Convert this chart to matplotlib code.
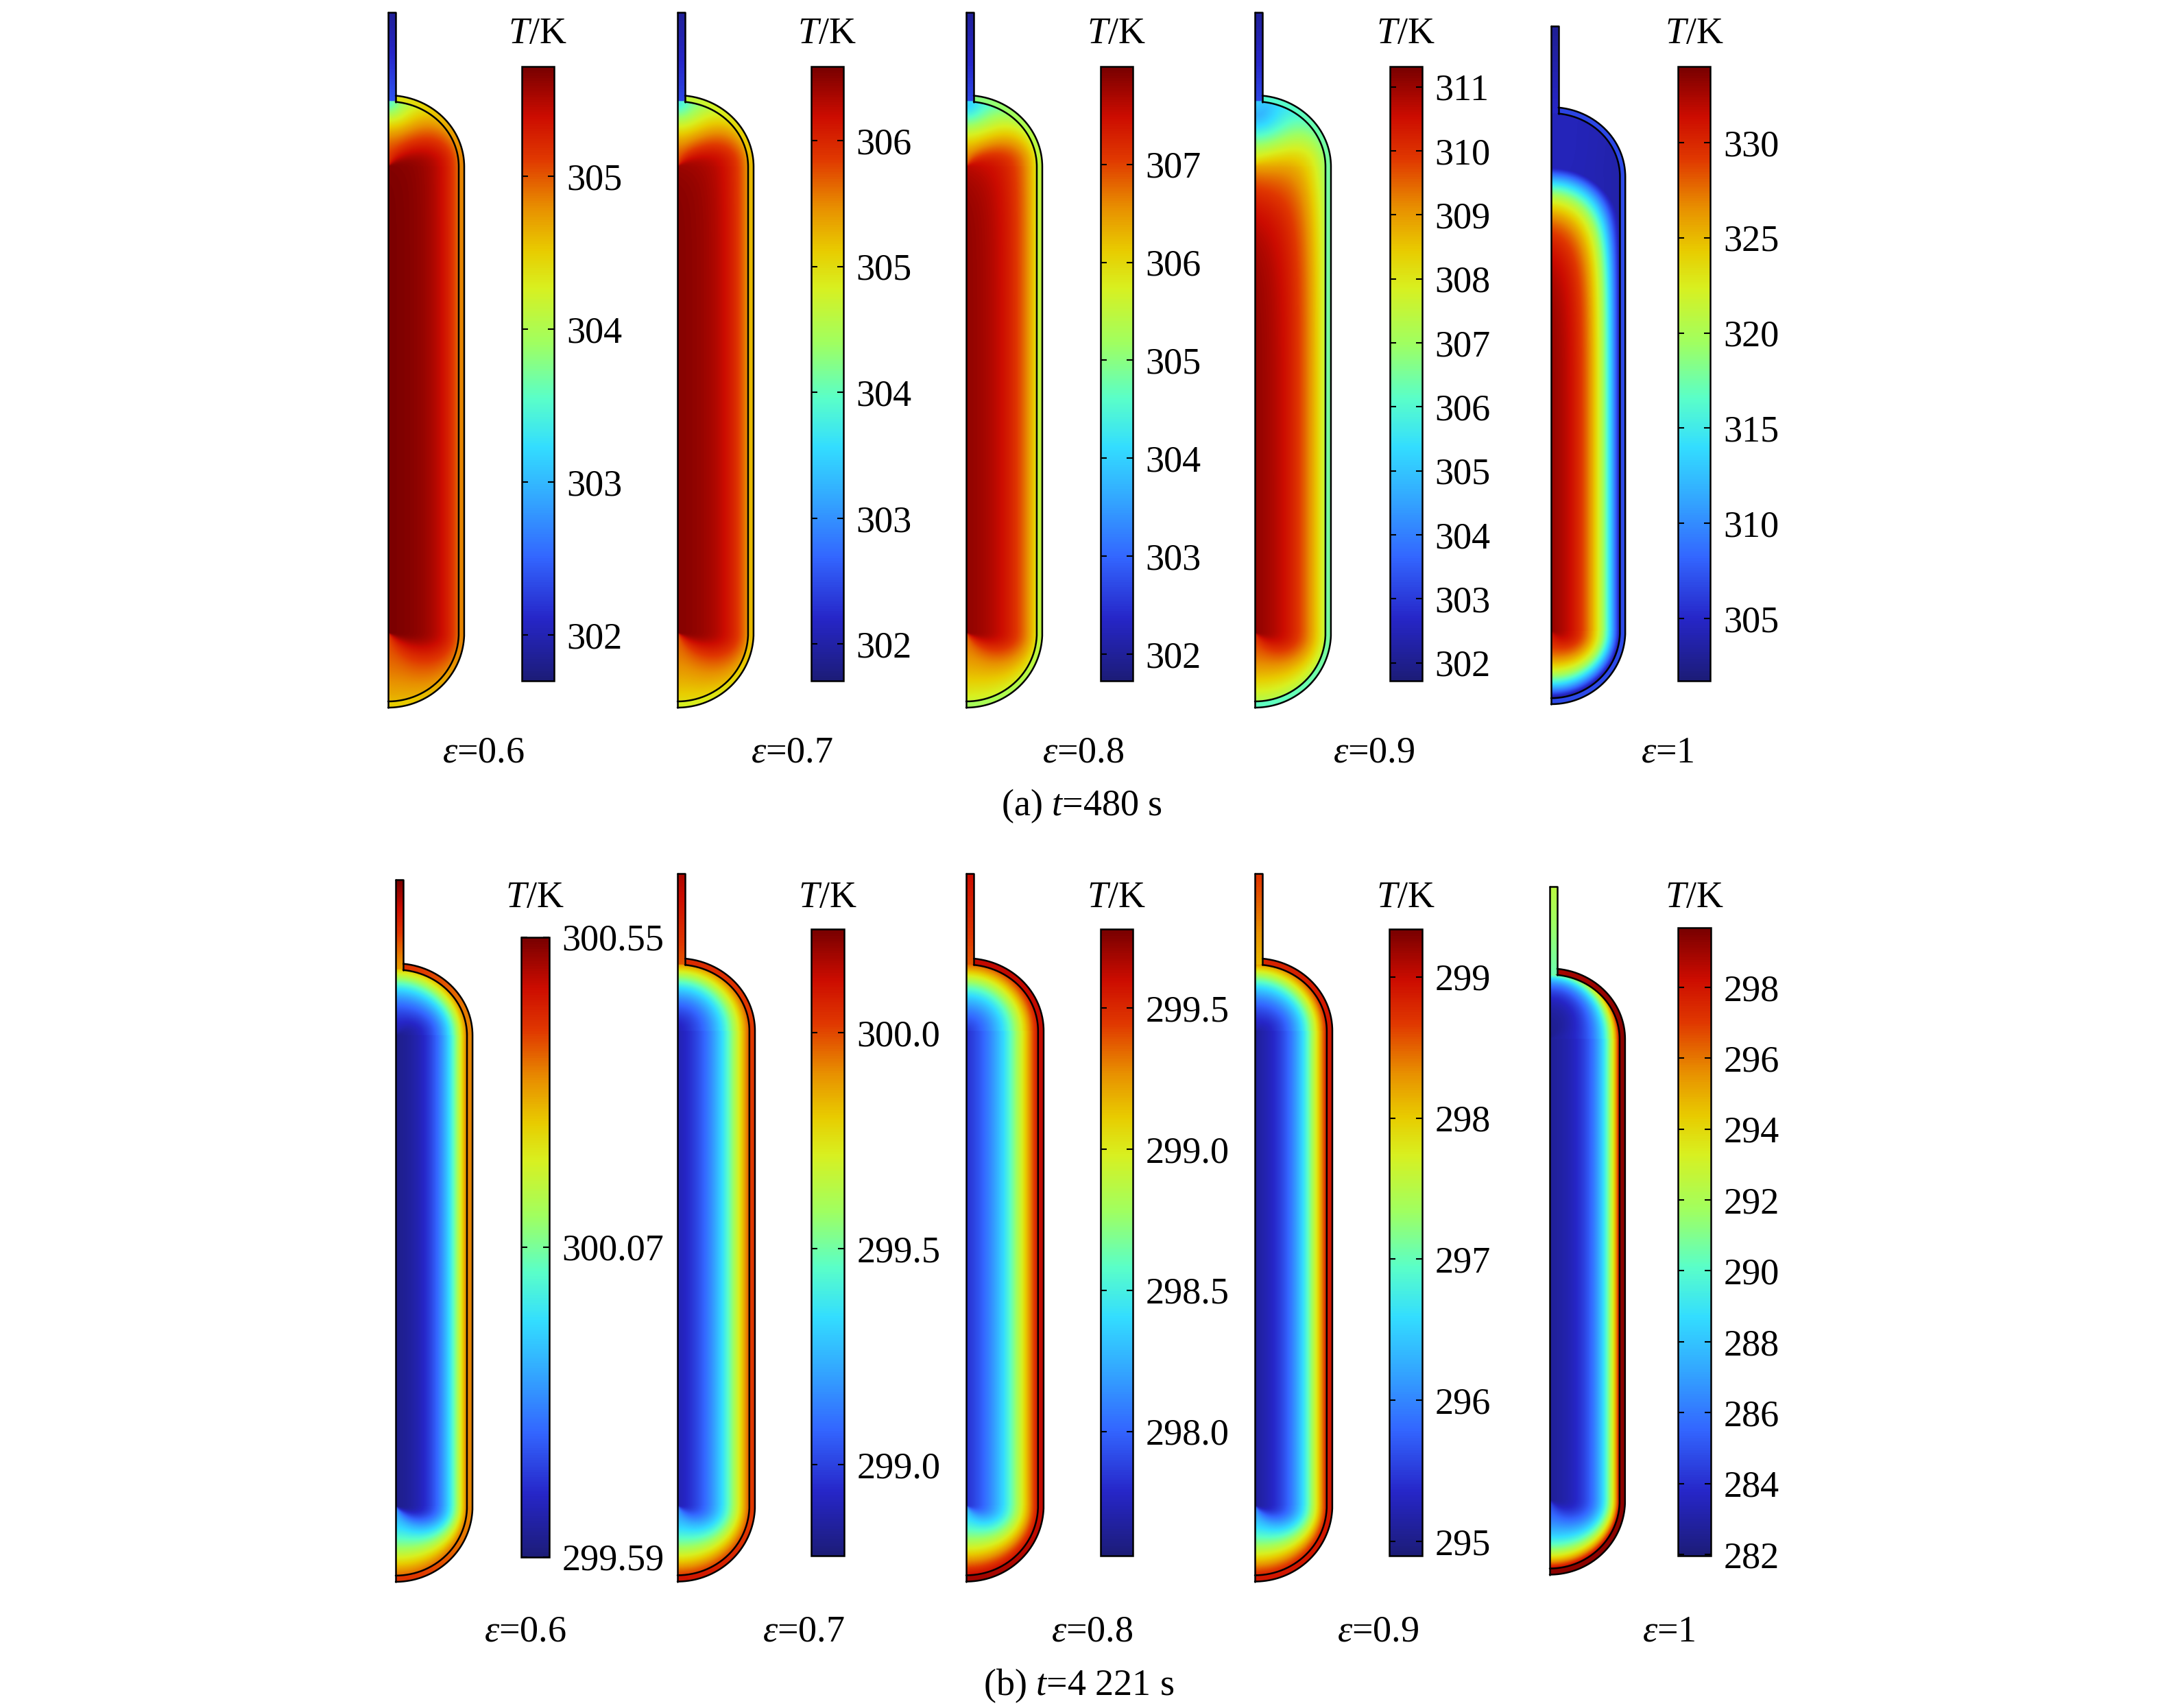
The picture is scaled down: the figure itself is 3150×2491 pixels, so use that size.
import numpy as np
import matplotlib
matplotlib.use('Agg')
import matplotlib.pyplot as plt
from matplotlib.colors import LinearSegmentedColormap, Normalize
from matplotlib.patches import PathPatch
from matplotlib.path import Path
import matplotlib.cm as cm

plt.rcParams['font.family'] = ['Liberation Serif', 'DejaVu Serif']
plt.rcParams['mathtext.fontset'] = 'custom'
plt.rcParams['mathtext.rm'] = 'Liberation Serif'
plt.rcParams['mathtext.it'] = 'Liberation Serif:italic'

# ---------------- data (panels: a 0.6..1, then b 0.6..1) ----------------
EPS_LABELS = ['0.6', '0.7', '0.8', '0.9', '1']
CAPTIONS = [r'(a) $t$=480 s', r'(b) $t$=4 221 s']

T_MIN = [301.70, 301.71, 301.73, 301.72, 301.74, 299.59, 298.79, 297.56, 294.90, 281.96]
T_MAX = [305.72, 306.59, 308.00, 311.32, 334.00, 300.55, 300.24, 299.78, 299.34, 299.68]
TICKS = [
    [302, 303, 304, 305],
    [302, 303, 304, 305, 306],
    [302, 303, 304, 305, 306, 307],
    [302, 303, 304, 305, 306, 307, 308, 309, 310, 311],
    [305, 310, 315, 320, 325, 330],
    [299.59, 300.07, 300.55],
    [299.0, 299.5, 300.0],
    [298.0, 298.5, 299.0, 299.5],
    [295, 296, 297, 298, 299],
    [282, 284, 286, 288, 290, 292, 294, 296, 298],
]
TICK_FMT = ['%d'] * 5 + ['%.2f', '%.1f', '%.1f', '%d', '%d']

# temperature field (K, distances in px)
T_CORE = [305.72, 306.55, 307.95, 311.30, 334.0, 299.60, 298.80, 297.58, 294.95, 282.4]
SHAPE_Q = [1.0, 1.0, 1.0, 1.1, 1.1, 1.2, 1.2, 1.2, 1.2, 1.0]
T_SIDE = [304.92, 305.42, 305.90, 307.50, 303.0, 300.36, 299.98, 299.56, 298.80, 298.4]
L_SIDE = [28, 30, 35, 40, 33, 33, 48, 55, 39, 26]
T_TOP = [304.40, 304.75, 305.20, 307.30, 304.5, 300.26, 299.88, 299.34, 298.23, 291.0]
L_TOP = [90, 85, 80, 60, 30, 45, 48, 58, 46, 20]
T_BOT = [304.60, 305.00, 305.60, 307.30, 303.0, 300.36, 300.02, 299.60, 298.80, 298.3]
L_BOT = [160, 150, 130, 88, 44, 88, 81, 90, 80, 50]
T_LAYER = [305.72, 306.55, 307.95, 311.30, 304.5, 299.60, 298.80, 297.58, 294.95, 282.4]
LAYER_D0 = [0, 0, 0, 0, 82, 0, 0, 0, 0, 0]
LAYER_L = [0, 0, 0, 0, 52, 0, 0, 0, 0, 0]
T_INLET = [302.8, 302.9, 303.0, 302.9, 334.0, 299.6, 298.8, 297.58, 294.95, 282.4]
INLET_D0 = [5, 5, 8, 20, 0, 0, 0, 0, 0, 0]
INLET_L = [20, 25, 30, 60, 0, 0, 0, 0, 0, 0]
T_SHELL_SIDE = [304.84, 305.22, 305.50, 306.50, 306.8, 300.34, 300.02, 299.62, 298.90, 299.3]
T_SHELL_TOP = [304.35, 304.64, 305.00, 306.00, 306.6, 300.41, 300.05, 299.62, 298.80, 298.9]
T_SHELL_BOT = [304.50, 304.83, 305.25, 306.20, 306.8, 300.41, 300.10, 299.69, 298.90, 299.3]
T_PIPE_TOP = [301.85, 301.90, 301.98, 302.10, 302.9, 300.55, 300.17, 299.60, 298.70, 292.5]
T_PIPE_BOT = [302.40, 302.45, 302.70, 303.20, 305.0, 300.31, 299.98, 299.38, 298.10, 290.5]

# ---------------- colour map (COMSOL rainbow-like) ----------------
CMAP = LinearSegmentedColormap.from_list('rainbow_comsol', list(zip(
    [0.0, 0.10, 0.20, 0.30, 0.38, 0.46, 0.55, 0.64, 0.70, 0.77, 0.85, 0.92, 1.0],
    ['#1c1c78', '#2626c8', '#3366ff', '#33aaff', '#33ddff', '#5affc8', '#a0ff60',
     '#d8f020', '#e8cc00', '#e89000', '#e03800', '#cc0c00', '#780000'])))

# ---------------- tank geometry (px, axis at r=0, outer bottom at z=0) ----------------
R_OUT, R_IN = 111.0, 103.0
Z_CB, Z_CT = 109.0, 789.0
B_TOP_OUT, B_BOT_OUT = 104.0, 109.0
B_TOP_IN, B_BOT_IN = 95.0, 100.0
R_PIPE, Z_PIPE = 11.0, 1014.0
Z_INLET = Z_CT + B_TOP_IN

# ---------------- layout (pixels of the 3150 x 2491 figure) ----------------
W, H, DPI = 3150, 2491, 300
AXIS_X = [566, 988, 1409, 1830, 2262, 577, 988, 1409, 1830, 2260]
BOTTOM_Y = [1032, 1032, 1032, 1032, 1027, 2307, 2306.6, 2306.6, 2306.6, 2296.5]
SCALE = [1, 1, 1, 1, 0.975, 1.01, 1.018, 1.018, 1.018, 0.99]
CB_X = [760.7, 1182.7, 1604.7, 2026.7, 2447, 760, 1183, 1604.5, 2026, 2447]
CB_W = [47, 47, 47, 47, 47, 40.5, 47.5, 47.5, 47.5, 47.5]
CB_TOP = [96.7] * 5 + [1366.7, 1354.7, 1354.7, 1354.7, 1353]
CB_BOT = [992.7] * 5 + [2270.7, 2268.8, 2268.8, 2268.8, 2269]
TK_BASE = [63, 1323]
EPS_X = [[705, 1155, 1580, 2004, 2432], [766, 1172, 1593, 2010, 2434]]
EPS_BASE = [1111, 2393]
CAP_X = [1578, 1573]
CAP_BASE = [1189, 2472]
FS = 13
LW = 0.6


def fx(x):
    return x / W


def fy(y):
    return 1 - y / H


def tank_field(i, r, z):
    q = SHAPE_Q[i]
    Tc = T_CORE[i]
    top = z > Z_CT
    bot = z < Z_CB
    # inner surface: distance and position along the wall
    rho_t = np.sqrt((r / R_IN) ** 2 + ((z - Z_CT) / B_TOP_IN) ** 2)
    rho_b = np.sqrt((r / R_IN) ** 2 + ((z - Z_CB) / B_BOT_IN) ** 2)
    dn = np.where(top, (1 - rho_t) * (R_IN + B_TOP_IN) / 2,
                  np.where(bot, (1 - rho_b) * (R_IN + B_BOT_IN) / 2, R_IN - r))
    wt = np.where(top, np.sin(np.arctan2((z - Z_CT) / B_TOP_IN, r / R_IN)) ** 2, 0.0)
    wb = np.where(bot, np.sin(np.arctan2((Z_CB - z) / B_BOT_IN, r / R_IN)) ** 2, 0.0)
    Tb = T_SIDE[i] + (T_TOP[i] - T_SIDE[i]) * wt + (T_BOT[i] - T_SIDE[i]) * wb
    L = L_SIDE[i] + (L_TOP[i] - L_SIDE[i]) * wt + (L_BOT[i] - L_SIDE[i]) * wb
    fw = np.exp(-(np.clip(dn, 0, None) / L) ** q)
    # cold layer under the top head
    if LAYER_L[i] > 0:
        zs = Z_CT + B_TOP_IN * np.sqrt(np.clip(1 - (r / R_IN) ** 2, 0, None))
        dl = np.clip(zs - z - LAYER_D0[i], 0, None)
        fl = np.exp(-(dl / LAYER_L[i]) ** q)
    else:
        fl = np.zeros_like(r)
    # plume from the inlet pipe
    if INLET_L[i] > 0:
        dp = np.sqrt(r ** 2 + (Z_INLET - z) ** 2)
        fp = np.exp(-(np.clip(dp - INLET_D0[i], 0, None) / INLET_L[i]) ** q)
    else:
        fp = np.zeros_like(r)
    F = 1 - (1 - fw) * (1 - fl) * (1 - fp)
    Tmix = (Tb * fw + T_LAYER[i] * fl + T_INLET[i] * fp) / (fw + fl + fp + 1e-12)
    T = Tc + (Tmix - Tc) * F
    # steel shell
    wto = np.where(top, np.sin(np.arctan2((z - Z_CT) / B_TOP_OUT, r / R_OUT)) ** 2, 0.0)
    wbo = np.where(bot, np.sin(np.arctan2((Z_CB - z) / B_BOT_OUT, r / R_OUT)) ** 2, 0.0)
    Ts = (T_SHELL_SIDE[i] + (T_SHELL_TOP[i] - T_SHELL_SIDE[i]) * wto
          + (T_SHELL_BOT[i] - T_SHELL_SIDE[i]) * wbo)
    T = np.where(dn >= 0, T, Ts)
    # filling pipe
    pipe = (r <= R_PIPE + 1) & (z >= Z_INLET)
    Tp = T_PIPE_BOT[i] + (T_PIPE_TOP[i] - T_PIPE_BOT[i]) * (z - Z_INLET) / (Z_PIPE - Z_INLET)
    T = np.where(pipe, Tp, T)
    return np.clip(T, T_MIN[i], T_MAX[i])


def head_curve(r0, R, b, zc, up, n=120):
    a0 = np.arccos(np.clip(r0 / R, -1, 1))
    th = np.linspace(a0, 0, n) if up else np.linspace(0, np.pi / 2, n)
    rr = R * np.cos(th)
    zz = zc + b * np.sin(th) if up else zc - b * np.sin(th)
    return rr, zz


rr = np.linspace(0, R_OUT, 225)
zz = np.linspace(0, Z_PIPE, 2040)
RR, ZZ = np.meshgrid(rr, zz)

# outline curves
rt_o, zt_o = head_curve(R_PIPE, R_OUT, B_TOP_OUT, Z_CT, True)
rb_o, zb_o = head_curve(0, R_OUT, B_BOT_OUT, Z_CB, False)
rt_i, zt_i = head_curve(R_PIPE, R_IN, B_TOP_IN, Z_CT, True)
rb_i, zb_i = head_curve(0, R_IN, B_BOT_IN, Z_CB, False)
outer_r = np.concatenate([rt_o, rb_o])
outer_z = np.concatenate([zt_o, zb_o])
inner_r = np.concatenate([rt_i, rb_i])
inner_z = np.concatenate([zt_i, zb_i])
clip_r = np.concatenate([[0, R_PIPE], outer_r, [0]])
clip_z = np.concatenate([[Z_PIPE, Z_PIPE], outer_z, [Z_PIPE]])

fig = plt.figure(figsize=(W / DPI, H / DPI), dpi=DPI)

for i in range(10):
    s, x0, yb = SCALE[i], AXIS_X[i], BOTTOM_Y[i]
    m = 8
    left, right = x0 - m * s, x0 + (R_OUT + m) * s
    ytop, ybot = yb - (Z_PIPE + m) * s, yb + m * s
    ax = fig.add_axes([fx(left), fy(ybot), (right - left) / W, (ybot - ytop) / H])
    ax.set_xlim(-m, R_OUT + m)
    ax.set_ylim(-m, Z_PIPE + m)
    ax.axis('off')

    T = tank_field(i, RR, ZZ)
    im = ax.imshow(T, origin='lower', extent=[0, R_OUT, 0, Z_PIPE], cmap=CMAP,
                   vmin=T_MIN[i], vmax=T_MAX[i], interpolation='bilinear', aspect='auto')
    patch = PathPatch(Path(np.column_stack([clip_r, clip_z])), transform=ax.transData,
                      facecolor='none', edgecolor='none')
    ax.add_patch(patch)
    im.set_clip_path(patch)

    kw = dict(color='black', lw=LW, solid_joinstyle='round', solid_capstyle='round')
    ax.plot(outer_r, outer_z, **kw)
    ax.plot(inner_r, inner_z, **kw)
    ax.plot([0, 0], [0, Z_PIPE], **kw)
    ax.plot([0, R_PIPE, R_PIPE], [Z_PIPE, Z_PIPE, zt_i[0]], **kw)

    # colour bar
    cax = fig.add_axes([fx(CB_X[i]), fy(CB_BOT[i]), CB_W[i] / W, (CB_BOT[i] - CB_TOP[i]) / H])
    sm = cm.ScalarMappable(norm=Normalize(T_MIN[i], T_MAX[i]), cmap=CMAP)
    cb = fig.colorbar(sm, cax=cax, ticks=TICKS[i])
    cb.outline.set_linewidth(LW)
    cb.set_ticklabels([TICK_FMT[i] % t for t in TICKS[i]])
    cax.tick_params(direction='in', left=True, right=True, length=2.2, width=0.5,
                    labelsize=FS, pad=4.5)
    row = i // 5
    fig.text(fx(CB_X[i] + CB_W[i] / 2), fy(TK_BASE[row]), r'$T$/K',
             ha='center', va='baseline', fontsize=FS)
    fig.text(fx(EPS_X[row][i % 5]), fy(EPS_BASE[row]),
             r'$\varepsilon$=' + EPS_LABELS[i % 5], ha='center', va='baseline', fontsize=FS)

for row in range(2):
    fig.text(fx(CAP_X[row]), fy(CAP_BASE[row]), CAPTIONS[row],
             ha='center', va='baseline', fontsize=FS)

fig.savefig('out.png', dpi=DPI)
